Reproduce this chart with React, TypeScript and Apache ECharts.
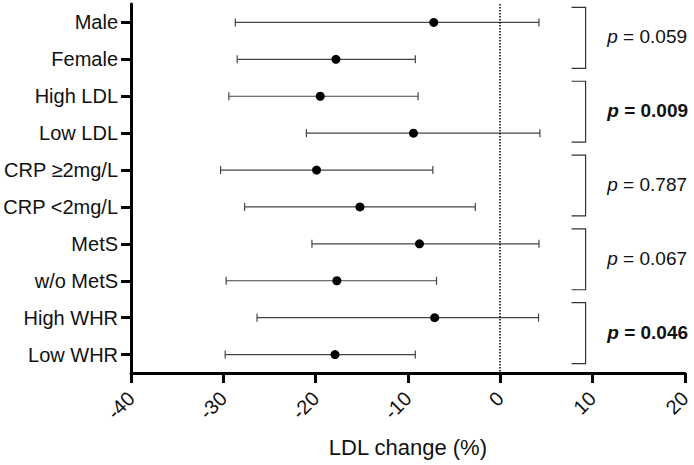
import React, { useEffect, useRef } from "react";
import * as echarts from "echarts";

const categories = [
  "Male",
  "Female",
  "High LDL",
  "Low LDL",
  "CRP ≥2mg/L",
  "CRP <2mg/L",
  "MetS",
  "w/o MetS",
  "High WHR",
  "Low WHR",
];
const means = [-7.2, -17.8, -19.5, -9.4, -19.9, -15.2, -8.75, -17.7, -7.1, -17.9];
const lower = [-28.7, -28.5, -29.4, -21.0, -30.3, -27.7, -20.4, -29.7, -26.35, -29.8];
const upper = [4.2, -9.2, -8.9, 4.3, -7.3, -2.7, 4.2, -6.9, 4.15, -9.2];

const pairs = [
  [0, 1],
  [2, 3],
  [4, 5],
  [6, 7],
  [8, 9],
];
const pValues = ["0.059", "0.009", "0.787", "0.067", "0.046"];
const significant = [false, true, false, false, true];

const xTicks = [-40, -30, -20, -10, 0, 10, 20];

const FONT = "'Liberation Sans', Arial, Helvetica, sans-serif";

export default function App() {
  const ref = useRef<HTMLDivElement>(null);

  useEffect(() => {
    if (!ref.current) return;
    const chart = echarts.init(ref.current, null, { renderer: "svg" });

    const errData = categories.map((_, i) => [lower[i], upper[i], i]);
    const dotData = categories.map((_, i) => [means[i], i]);
    const bracketData = pairs.map((p, k) => [p[0], p[1], k]);

    const option: any = {
      animation: false,
      backgroundColor: "#ffffff",
      grid: { left: 130, right: 7, top: 4, bottom: 92, containLabel: false },
      xAxis: {
        type: "value",
        min: xTicks[0],
        max: xTicks[xTicks.length - 1],
        interval: 10,
        splitLine: { show: false },
        axisLine: { show: true, onZero: false, lineStyle: { color: "#000", width: 3 } },
        axisTick: { show: true, length: 10, lineStyle: { color: "#000", width: 3 } },
        axisLabel: {
          rotate: 45,
          margin: 22,
          fontSize: 20,
          color: "#111",
          fontFamily: FONT,
        },
        name: "LDL change (%)",
        nameLocation: "middle",
        nameGap: 63,
        nameTextStyle: { fontSize: 22, color: "#111", fontFamily: FONT },
      },
      yAxis: {
        type: "category",
        data: categories,
        inverse: true,
        axisLine: { show: true, onZero: false, lineStyle: { color: "#000", width: 3 } },
        axisTick: { show: true, alignWithLabel: true, length: 10, lineStyle: { color: "#000", width: 3 } },
        axisLabel: { margin: 13, fontSize: 20, color: "#111", fontFamily: FONT },
        splitLine: { show: false },
      },
      series: [
        {
          type: "custom",
          clip: false,
          data: errData,
          encode: { x: [0, 1], y: 2 },
          renderItem: (params: any, api: any) => {
            const lo = api.coord([api.value(0), api.value(2)]);
            const hi = api.coord([api.value(1), api.value(2)]);
            const cap = 4;
            const style = { stroke: "#444", lineWidth: 1.2 };
            return {
              type: "group",
              children: [
                { type: "line", shape: { x1: lo[0], y1: lo[1], x2: hi[0], y2: hi[1] }, style },
                { type: "line", shape: { x1: lo[0], y1: lo[1] - cap, x2: lo[0], y2: lo[1] + cap }, style },
                { type: "line", shape: { x1: hi[0], y1: hi[1] - cap, x2: hi[0], y2: hi[1] + cap }, style },
              ],
            };
          },
          z: 2,
        },
        {
          type: "scatter",
          data: dotData,
          symbol: "circle",
          symbolSize: 9,
          itemStyle: { color: "#000", opacity: 1 },
          z: 3,
          markLine: {
            silent: true,
            symbol: "none",
            label: { show: false },
            lineStyle: { color: "#000", type: "dotted", width: 1.5, opacity: 1 },
            data: [{ xAxis: 0 }],
          },
        },
        {
          type: "custom",
          clip: false,
          data: bracketData,
          encode: { y: [0, 1] },
          renderItem: (params: any, api: any) => {
            const a = api.coord([9.25, api.value(0)]);
            const b = api.coord([9.25, api.value(1)]);
            const k = api.value(2);
            const yTop = a[1] - 15;
            const yBot = b[1] + 9;
            const xV = a[0];
            const arm = 14;
            const st = { stroke: "#333", lineWidth: 1.2, fill: null };
            const bold = significant[k];
            const tx = api.coord([11.6, 0])[0];
            return {
              type: "group",
              children: [
                {
                  type: "polyline",
                  shape: { points: [[xV - arm, yTop], [xV, yTop], [xV, yBot], [xV - arm, yBot]] },
                  style: st,
                },
                {
                  type: "text",
                  x: tx,
                  y: (a[1] + b[1]) / 2 - 4,
                  style: {
                    text: "{i|p}{n| = " + pValues[k] + "}",
                    verticalAlign: "middle",
                    align: "left",
                    rich: {
                      i: {
                        fontStyle: "italic",
                        fontWeight: bold ? "bold" : "normal",
                        fontSize: 19,
                        fontFamily: FONT,
                        fill: "#111",
                      },
                      n: {
                        fontWeight: bold ? "bold" : "normal",
                        fontSize: 19,
                        fontFamily: FONT,
                        fill: "#111",
                      },
                    },
                  },
                },
              ],
            };
          },
          z: 2,
        },
      ],
    };

    chart.setOption(option);
    return () => chart.dispose();
  }, []);

  return (
    <div
      ref={ref}
      style={{ position: "fixed", left: 0, top: 0, width: 694, height: 465, background: "#fff" }}
    />
  );
}
